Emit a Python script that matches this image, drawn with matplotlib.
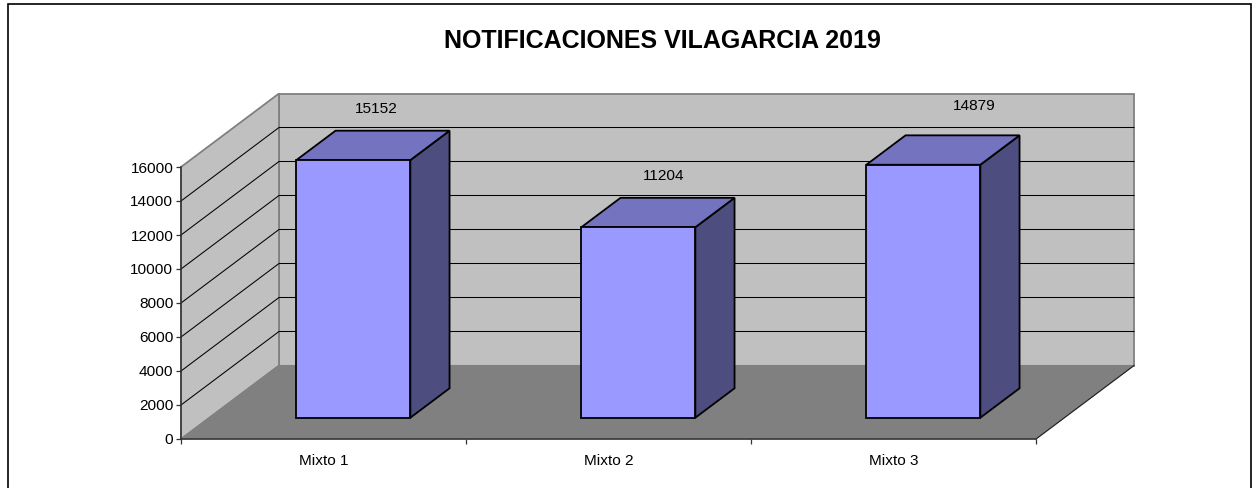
import matplotlib
matplotlib.use("Agg")
import matplotlib.pyplot as plt
from matplotlib.patches import Polygon, Rectangle

plt.rcParams['font.family'] = ['Liberation Sans', 'DejaVu Sans']

categorias = ["Mixto 1", "Mixto 2", "Mixto 3"]
valores = [15152, 11204, 14879]
ticks_y = [0, 2000, 4000, 6000, 8000, 10000, 12000, 14000, 16000]
titulo = "NOTIFICACIONES VILAGARCIA 2019"

W, H = 1258, 488
YMAX = 16000
NCAT = len(categorias)

# frente do grafico em pixels
ESQ, DIR, BASE, TOPO = 181, 1036, 439, 167
# profundidade total (deslocamento da parede do fundo) em unidades de dados
DX = 98.0 / ((DIR - ESQ) / NCAT)
DY = 73.5 / ((BASE - TOPO) / YMAX)

LARG = 0.40   # largura da barra
CENTRO = 0.505  # centro da barra dentro da categoria
PROF0 = 0.29  # onde a barra comeca na profundidade
PROF = 0.40   # profundidade da barra
ROTULO_DX = [-16, -14, 12]  # deslocamento dos rotulos em pixels
ROTULO_DY = [22, 22, 29]

fig = plt.figure(figsize=(W / 100, H / 100), dpi=100, facecolor="white")
ax = fig.add_axes([ESQ / W, (H - BASE) / H, (DIR - ESQ) / W, (BASE - TOPO) / H])
ax.set_xlim(0, NCAT)
ax.set_ylim(0, YMAX)
ax.patch.set_visible(False)


def proj(x, y, d):
    return (x + d * DX, y + d * DY)


def poligono(pontos, cor, borda, lw, z):
    ax.add_patch(Polygon(pontos, closed=True, facecolor=cor, edgecolor=borda,
                         linewidth=lw, zorder=z, clip_on=False, joinstyle="miter"))


# paredes e chao
poligono([proj(0, 0, 1), proj(NCAT, 0, 1), proj(NCAT, YMAX, 1), proj(0, YMAX, 1)], "#C0C0C0", "#808080", 1.3, 1)
poligono([proj(0, 0, 0), proj(0, 0, 1), proj(0, YMAX, 1), proj(0, YMAX, 0)], "#C0C0C0", "#808080", 1.3, 1)
poligono([proj(0, 0, 0), proj(NCAT, 0, 0), proj(NCAT, 0, 1), proj(0, 0, 1)], "#808080", "#808080", 0.8, 2)

# linhas de grade
for t in ticks_y[1:-1]:
    xs, ys = zip(proj(0, t, 0), proj(0, t, 1), proj(NCAT, t, 1))
    ax.plot(xs, ys, color="#000000", lw=0.75, zorder=3, clip_on=False)
ax.plot(*zip(proj(NCAT, 0, 0), proj(NCAT, 0, 1)), color="#222222", lw=0.8, zorder=3, clip_on=False)

# barras
for i, v in enumerate(valores):
    x0 = i + CENTRO - LARG / 2
    x1 = i + CENTRO + LARG / 2
    d0 = PROF0
    d1 = PROF0 + PROF
    poligono([proj(x1, 0, d0), proj(x1, 0, d1), proj(x1, v, d1), proj(x1, v, d0)], "#4D4D80", "#000000", 1.3, 4)
    poligono([proj(x0, v, d0), proj(x1, v, d0), proj(x1, v, d1), proj(x0, v, d1)], "#7373BF", "#000000", 1.3, 4)
    poligono([proj(x0, 0, d0), proj(x1, 0, d0), proj(x1, v, d0), proj(x0, v, d0)], "#9999FF", "#000000", 1.3, 5)
    px, py = proj(i + CENTRO, v, d1)
    ax.annotate(str(v), (px, py), xytext=(ROTULO_DX[i] * 0.72, ROTULO_DY[i] * 0.72), textcoords="offset points",
                ha="center", va="center", fontsize=11.1, color="black", zorder=6, annotation_clip=False)

# eixos
for lado in ["top", "right"]:
    ax.spines[lado].set_visible(False)
for lado in ["left", "bottom"]:
    ax.spines[lado].set_color("#333333")
    ax.spines[lado].set_linewidth(1.1)
    ax.spines[lado].set_zorder(7)
ax.set_yticks(ticks_y)
ax.set_yticklabels([str(t) for t in ticks_y], fontsize=11.1)
ax.set_xticks(range(NCAT + 1))
ax.set_xticklabels([])
ax.set_xticks([i + 0.5 for i in range(NCAT)], minor=True)
ax.set_xticklabels(categorias, minor=True, fontsize=11.1)
ax.tick_params(axis="x", which="major", length=3.5, width=0.9, color="#333333")
ax.tick_params(axis="x", which="minor", length=0, pad=11)
ax.tick_params(axis="y", length=3.5, width=0.9, color="#333333", pad=2)

fig.text(662 / W, 1 - 41.5 / H, titulo, ha="center", va="center", fontsize=18, fontweight="bold")

# moldura externa, a borda de baixo fica fora da imagem
fig.add_artist(Rectangle((7.5 / W, -0.05), (1251 - 7.5) / W, 1.05 - 4.5 / H, transform=fig.transFigure,
                         facecolor="none", edgecolor="black", linewidth=1.2))

fig.savefig("out.png", dpi=100)
